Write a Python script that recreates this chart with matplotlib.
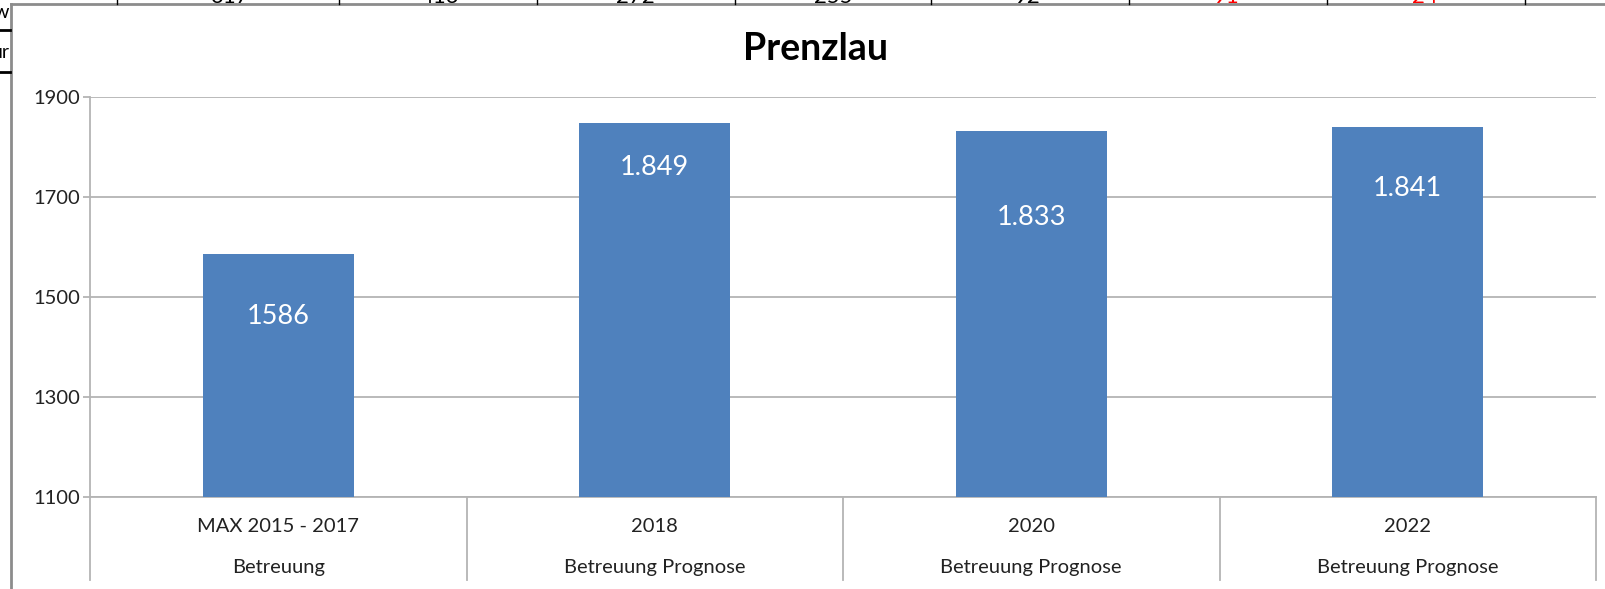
import matplotlib
matplotlib.use("Agg")
import matplotlib.pyplot as plt
from matplotlib.lines import Line2D
import matplotlib.transforms as mtransforms

# ---- data ----
years = ["MAX 2015 - 2017", "2018", "2020", "2022"]
groups = ["Betreuung", "Betreuung Prognose", "Betreuung Prognose", "Betreuung Prognose"]
values = [1586, 1849, 1833, 1841]
value_labels = ["1586", "1.849", "1.833", "1.841"]
yticks = [1100, 1300, 1500, 1700, 1900]
title = "Prenzlau"
# cut-off spreadsheet fragments above the chart
strip_texts = ["317", "413", "272", "255", "92", "91", "24"]
strip_colors = ["black", "black", "black", "black", "black", "red", "red"]

# ---- layout (pixels) ----
W, H = 1605, 589
DPI = 100
label_y = [1462, 1760, 1659, 1718]   # label centre positions (manually placed in original)
strip_x = [229, 440, 635, 833, 1028, 1227, 1425]
strip_ticks_x = [117, 339, 537, 735, 931, 1129, 1327, 1525]

FONT = "Lato"
plt.rcParams["font.family"] = [FONT, "DejaVu Sans"]

fig = plt.figure(figsize=(W / DPI, H / DPI), dpi=DPI)
fig.patch.set_facecolor("white")

def fx(px):
    return px / W

def fy(py):
    return 1 - py / H

ax_l, ax_r, ax_t, ax_b = 90, 1596, 97.3, 497
ax = fig.add_axes([fx(ax_l), fy(ax_b), fx(ax_r - ax_l), (ax_b - ax_t) / H])

GRID = "#b4b4b4"
BAR = "#4F81BD"

x = list(range(len(values)))
ax.bar(x, [v - yticks[0] for v in values], bottom=yticks[0], width=0.4,
       color=BAR, zorder=3)
ax.set_xlim(-0.5, len(values) - 0.5)
ax.set_ylim(yticks[0], yticks[-1])
ax.set_yticks(yticks)
ax.set_yticklabels([str(t) for t in yticks], fontsize=14.5, color="#222222")
ax.set_xticks([])
ax.yaxis.grid(True, color=GRID, lw=1.3, zorder=0)
for s in ["top", "right"]:
    ax.spines[s].set_visible(False)
for s in ["left", "bottom"]:
    ax.spines[s].set_color(GRID)
    ax.spines[s].set_linewidth(1.3)
ax.tick_params(axis="y", length=5, width=1.3, color=GRID, pad=2)

for xi, ly, lab in zip(x, label_y, value_labels):
    ax.text(xi, ly, lab, ha="center", va="center", color="white", fontsize=19.5)

# multi-level category axis
trans = mtransforms.blended_transform_factory(ax.transData, ax.transAxes)
ah = ax_b - ax_t
row1 = -(532 - ax_b) / ah
row2 = -(573 - ax_b) / ah
sep_bottom = -(580 - ax_b) / ah
for xi, yr, gr in zip(x, years, groups):
    ax.text(xi, row1, yr, transform=trans, ha="center", va="baseline",
            fontsize=14.5, color="#222222")
    ax.text(xi, row2, gr, transform=trans, ha="center", va="baseline",
            fontsize=14.5, color="#222222")
for b in [i - 0.5 for i in range(len(values) + 1)]:
    ax.add_line(Line2D([b, b], [0, sep_bottom], transform=trans, color=GRID,
                       lw=1.3, clip_on=False))

# title
fig.text(fx(816), fy(60), title, ha="center", va="baseline", fontsize=27,
         fontweight="bold", color="black")

# chart frame
fig.add_artist(Line2D([fx(11), 1], [fy(4), fy(4)], color="#8c8c8c", lw=2))
fig.add_artist(Line2D([fx(11), fx(11)], [0, fy(4)], color="#8c8c8c", lw=2))

# spreadsheet fragments above the frame
for sx, st, sc in zip(strip_x, strip_texts, strip_colors):
    fig.text(fx(sx), fy(3), st, ha="center", va="baseline", fontsize=16, color=sc)
for tx in strip_ticks_x:
    fig.add_artist(Line2D([fx(tx), fx(tx)], [fy(0), fy(4)], color="black", lw=1))
fig.add_artist(Line2D([0, fx(10)], [fy(30), fy(30)], color="black", lw=2))
fig.add_artist(Line2D([0, fx(10)], [fy(72), fy(72)], color="black", lw=2))
fig.text(fx(10), fy(18), "ow", ha="right", va="baseline", fontsize=14, color="black")
fig.text(fx(10), fy(58), "ur", ha="right", va="baseline", fontsize=14, color="black")

fig.savefig("out.png", dpi=DPI, facecolor="white")
